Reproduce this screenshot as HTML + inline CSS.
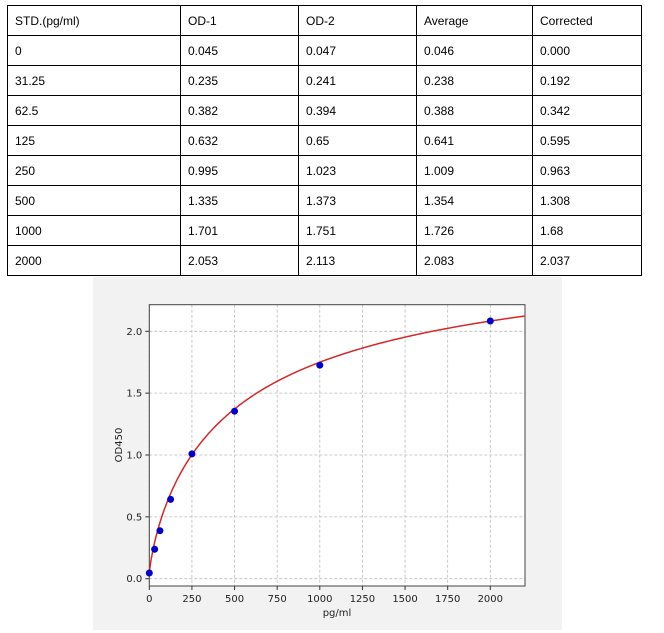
<!DOCTYPE html>
<html><head><style>
body{margin:0;width:664px;height:633px;background:#fff;font-family:"Liberation Sans",sans-serif;position:relative;overflow:hidden}
table{position:absolute;left:7px;top:5px;border-collapse:collapse;font-size:12px;color:#000}
td{border:1px solid #000;height:30px;padding:0 0 0 7px;box-sizing:border-box}
</style></head><body>
<table>
<tr><td style="width:173px">STD.(pg/ml)</td><td style="width:118px">OD-1</td><td style="width:118px">OD-2</td><td style="width:116px">Average</td><td style="width:109px">Corrected</td></tr>
<tr><td>0</td><td>0.045</td><td>0.047</td><td>0.046</td><td>0.000</td></tr>
<tr><td>31.25</td><td>0.235</td><td>0.241</td><td>0.238</td><td>0.192</td></tr>
<tr><td>62.5</td><td>0.382</td><td>0.394</td><td>0.388</td><td>0.342</td></tr>
<tr><td>125</td><td>0.632</td><td>0.65</td><td>0.641</td><td>0.595</td></tr>
<tr><td>250</td><td>0.995</td><td>1.023</td><td>1.009</td><td>0.963</td></tr>
<tr><td>500</td><td>1.335</td><td>1.373</td><td>1.354</td><td>1.308</td></tr>
<tr><td>1000</td><td>1.701</td><td>1.751</td><td>1.726</td><td>1.68</td></tr>
<tr><td>2000</td><td>2.053</td><td>2.113</td><td>2.083</td><td>2.037</td></tr>
</table>
<svg id="s" width="664" height="633" style="position:absolute;left:0;top:0" font-family="DejaVu Sans, sans-serif" font-size="10"></svg>
<script>
var s=document.getElementById('s'),h='';
h+='<rect x="93" y="277" width="469" height="353" fill="#f2f2f2"/>';
var L=149.3,R=525,T=304.7,B=586;
h+='<rect x="'+L+'" y="'+T+'" width="'+(R-L)+'" height="'+(B-T)+'" fill="#fff"/>';
function X(v){return 149.3+v*0.1705}function Y(v){return 578.7-v*123.7}
for(var v=0;v<=2000;v+=250){var x=X(v);h+='<line x1="'+x+'" y1="'+T+'" x2="'+x+'" y2="'+B+'" stroke="#bbb" stroke-dasharray="3,2" stroke-width="0.8"/>';h+='<line x1="'+x+'" y1="'+B+'" x2="'+x+'" y2="'+(B+4)+'" stroke="#333"/>';h+='<text x="'+x+'" y="'+(B+16)+'" text-anchor="middle" fill="#222">'+v+'</text>';}
for(var v=0;v<=2;v+=0.5){var y=Y(v);h+='<line x1="'+L+'" y1="'+y+'" x2="'+R+'" y2="'+y+'" stroke="#bbb" stroke-dasharray="3,2" stroke-width="0.8"/>';h+='<line x1="'+(L-4)+'" y1="'+y+'" x2="'+L+'" y2="'+y+'" stroke="#333"/>';h+='<text x="'+(L-7)+'" y="'+(y+3.5)+'" text-anchor="end" fill="#222">'+v.toFixed(1)+'</text>';}
h+='<rect x="'+L+'" y="'+T+'" width="'+(R-L)+'" height="'+(B-T)+'" fill="none" stroke="#444"/>';
var p=[];for(var x=0;x<=2205;x+=3){var y=0.04+2.77/(1+(x>0?Math.pow(550/x,0.8):1e9));p.push(X(x).toFixed(1)+','+Y(y).toFixed(1));}
h+='<polyline points="'+p.join(' ')+'" fill="none" stroke="#d62728" stroke-width="1.5"/>';
[[0,0.046],[31.25,0.238],[62.5,0.388],[125,0.641],[250,1.009],[500,1.354],[1000,1.726],[2000,2.083]].forEach(function(d){h+='<circle cx="'+X(d[0])+'" cy="'+Y(d[1])+'" r="3.5" fill="#0000cc"/>';});
h+='<text x="337" y="616" text-anchor="middle" fill="#222">pg/ml</text>';
h+='<text transform="translate(122,445) rotate(-90)" text-anchor="middle" fill="#222">OD450</text>';
s.innerHTML=h;
</script>
</body></html>
